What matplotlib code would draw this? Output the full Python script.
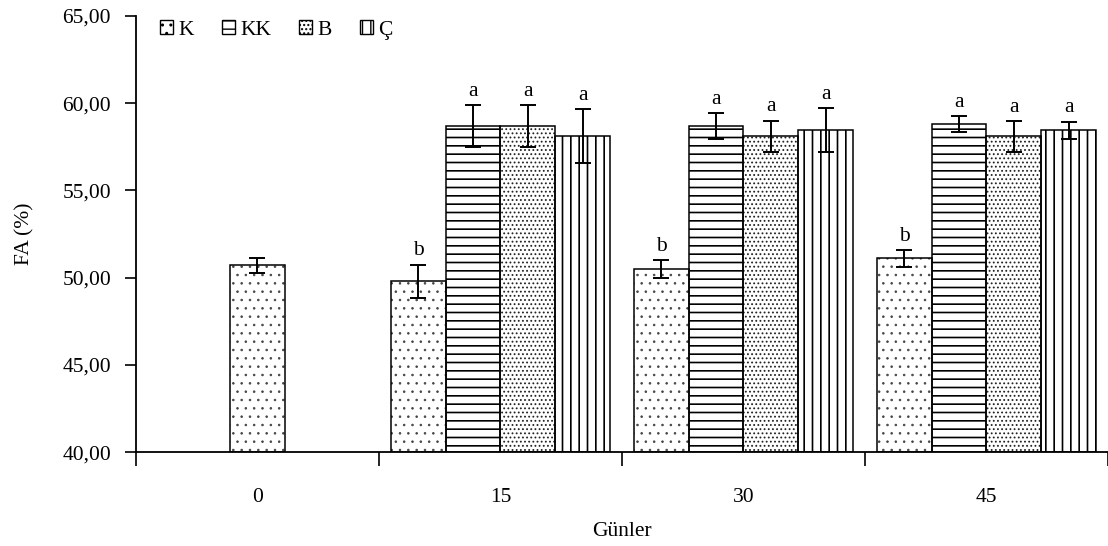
import numpy as np
import matplotlib
matplotlib.use("Agg")
import matplotlib.pyplot as plt
from matplotlib.ticker import FixedLocator, FuncFormatter
from matplotlib.patches import Patch

# Sampling days
days = ["0", "15", "30", "45"]

# Mean FA (%) per treatment with standard deviations
k_mean = [50.7, 49.8, 50.5, 51.1]
k_err = [0.45, 0.95, 0.5, 0.47]
kk_mean = [np.nan, 58.7, 58.7, 58.8]
kk_err = [np.nan, 1.2, 0.75, 0.45]
b_mean = [np.nan, 58.7, 58.1, 58.1]
b_err = [np.nan, 1.2, 0.9, 0.88]
c_mean = [np.nan, 58.1, 58.45, 58.45]
c_err = [np.nan, 1.55, 1.25, 0.5]

# Significance letters
k_letters = ["", "b", "b", "b"]
kk_letters = ["", "a", "a", "a"]
b_letters = ["", "a", "a", "a"]
c_letters = ["", "a", "a", "a"]

series_names = ["K", "KK", "B", "Ç"]
means = [k_mean, kk_mean, b_mean, c_mean]
errs = [k_err, kk_err, b_err, c_err]
letters = [k_letters, kk_letters, b_letters, c_letters]

# fill pattern: hatch, hatch colour, hatch line width
styles = [("..", "#444444", 0.6),
          ("--", "black", 1.2),
          ("....", "#222222", 0.8),
          ("||", "black", 1.2)]

plt.rcParams["font.family"] = ["Liberation Serif", "DejaVu Serif"]

fig = plt.figure(figsize=(11.08, 5.46), dpi=100)
ax = fig.add_axes([0.1227, 0.172, 0.8773, 0.7987])

width = 0.226
fs = 15.5


def hatched_bar(axis, x, h, bottom, w, s):
    hatch, hcol, hlw = styles[s]
    with plt.rc_context({"hatch.linewidth": hlw}):
        axis.bar(x, h, bottom=bottom, width=w, facecolor="white",
                 edgecolor=hcol, linewidth=0, hatch=hatch, zorder=2)
    axis.bar(x, h, bottom=bottom, width=w, facecolor="none",
             edgecolor="black", linewidth=1.1, zorder=2.5)


for di in range(len(days)):
    present = [s for s in range(len(means)) if not np.isnan(means[s][di])]
    n = len(present)
    for k, s in enumerate(present):
        x = di + (k - (n - 1) / 2) * width
        m = means[s][di]
        e = errs[s][di]
        hatched_bar(ax, x, m - 40, 40, width, s)
        ax.errorbar(x, m, yerr=e, fmt="none", ecolor="black",
                    elinewidth=1.4, capsize=5.5, capthick=1.4, zorder=3)
        if letters[s][di]:
            ax.annotate(letters[s][di], (x, m + e), xytext=(0, 3),
                        textcoords="offset points", ha="center",
                        va="bottom", fontsize=fs)

# legend with one entry per series
leg_handles = []
for hatch, hcol, hlw in styles:
    with plt.rc_context({"hatch.linewidth": hlw}):
        leg_handles.append(Patch(facecolor="white", edgecolor="black",
                                 hatch=hatch, linewidth=1.0))
ax.legend(leg_handles, series_names, loc="upper left",
          bbox_to_anchor=(0.005, 1.035), ncol=4, frameon=False,
          fontsize=fs, handlelength=0.6, handleheight=0.6,
          handletextpad=0.25, columnspacing=1.3)

ax.set_xlim(-0.5, 3.5)
ax.set_ylim(40, 65)
ax.set_yticks(np.arange(40, 66, 5))
ax.yaxis.set_major_formatter(FuncFormatter(lambda v, p: f"{v:.2f}".replace(".", ",")))
ax.set_xticks(range(len(days)))
ax.set_xticklabels(days)
ax.xaxis.set_minor_locator(FixedLocator(np.arange(-0.5, 3.6, 1.0)))
ax.tick_params(axis="x", which="major", length=0, pad=26, labelsize=fs)
ax.tick_params(axis="x", which="minor", length=10, width=1.2, direction="out")
ax.tick_params(axis="y", length=8, width=1.2, direction="out", labelsize=fs, pad=10)

for side in ["top", "right"]:
    ax.spines[side].set_visible(False)
for side in ["left", "bottom"]:
    ax.spines[side].set_linewidth(1.3)

ax.set_xlabel("Günler", fontsize=fs, labelpad=11)
ax.set_ylabel("FA (%)", fontsize=fs, labelpad=20)

fig.savefig("out.png", dpi=100)
